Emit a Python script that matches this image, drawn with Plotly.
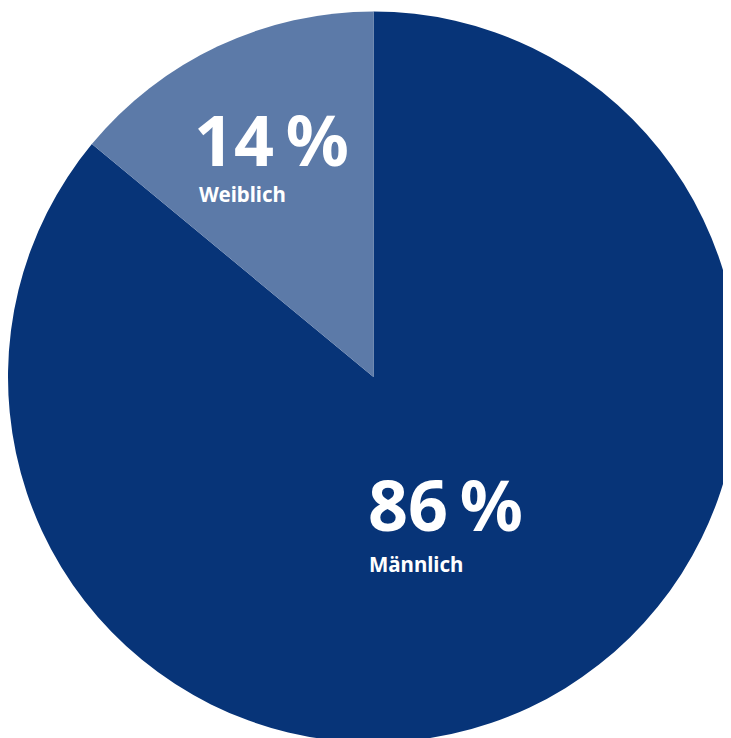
import plotly.graph_objects as go

# Geschlechterverteilung
labels = ["Männlich", "Weiblich"]
shares = [86, 14]
colors = ["#073478", "#5c7aa8"]

W, H = 731, 738
OFF = 8  # body margin of the html page

def px(x, y):
    # page pixels -> paper coords
    return (x - OFF) / W, 1 - (y - OFF) / H

fig = go.Figure(go.Pie(
    labels=labels,
    values=shares,
    sort=False,
    direction="clockwise",
    rotation=0,
    marker=dict(colors=colors, line=dict(width=0)),
    textinfo="none",
    hoverinfo="label+percent",
))

# label spots: left of number, centre of number, left of label, centre of label
spots = [(366, 504, 367, 564), (192, 139, 197, 194)]
font = "Noto Sans"
for lab, val, (xn, yn, xl, yl) in zip(labels, shares, spots):
    xa, ya = px(xn, yn)
    fig.add_annotation(x=xa, y=ya, xref="paper", yref="paper",
                       text=f"<b>{val}\u2009%</b>", showarrow=False,
                       xanchor="left", yanchor="middle",
                       font=dict(family=font, size=70, color="white"))
    xb, yb = px(xl, yl)
    fig.add_annotation(x=xb, y=yb, xref="paper", yref="paper",
                       text=f"<b>{lab}</b>", showarrow=False,
                       xanchor="left", yanchor="middle",
                       font=dict(family=font, size=20.5, color="white"))

fig.update_layout(
    width=W, height=H,
    margin=dict(l=0, r=0, t=0, b=0),
    showlegend=False,
    paper_bgcolor="white",
)

fig.write_html("out.html")
